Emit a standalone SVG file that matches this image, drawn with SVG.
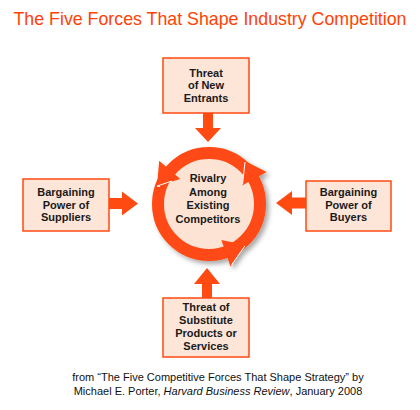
<svg xmlns="http://www.w3.org/2000/svg" width="420" height="410" viewBox="0 0 420 410">
<defs>
<style>
.title{font-family:"Liberation Sans",Arial,sans-serif;font-size:17.8px;fill:#ff4206}
.box{fill:#fde5d8;stroke:#ff4a12;stroke-width:1.5}
.lbl{font-family:"Liberation Sans",Arial,sans-serif;font-size:11px;font-weight:bold;fill:#1a1a1a;text-anchor:middle}
.foot{font-family:"Liberation Sans",Arial,sans-serif;font-size:11px;fill:#111;text-anchor:middle}
.arr{fill:#ff4a12}
.edge{fill:none;stroke:#fff;stroke-width:1;stroke-linejoin:round}
</style>
<filter id="sh" x="-20%" y="-20%" width="150%" height="150%">
<feDropShadow dx="3" dy="3" stdDeviation="2.5" flood-color="#000" flood-opacity="0.35"/>
</filter>
</defs>
<rect width="420" height="410" fill="#fff"/>
<text class="title" x="210" y="25" text-anchor="middle">The Five Forces That Shape Industry Competition</text>

<g id="connectors">
<path class="arr" d="M203 113H213V128H221L208 142L195 128H203Z"/>
<path class="arr" d="M109 198H122V191.5L138 203.5L122 215.5V209H109Z"/>
<path class="arr" d="M306 197.5H292V191L276 203L292 215V208.5H306Z"/>
<path class="arr" d="M202 298V284H194L207 268L220 284H212V298Z"/>
</g>

<g id="rivalry">
<g filter="url(#sh)">
<circle cx="209" cy="204" r="47" fill="#fde3d4"/>
<circle cx="209" cy="204" r="51" fill="none" stroke="#ff4a12" stroke-width="12"/>
<polygon class="arr" points="159.2,160.7 180.3,179.1 157,186.1"/>
<polygon class="arr" points="266.7,172 242.2,185.6 245,161.1"/>
<polygon class="arr" points="221.4,239.9 230.5,266.4 245.8,244.9"/>
</g>
<polyline class="edge" points="160,186.5 157,186.1 172,181"/>
<polyline class="edge" points="245,162 242.5,184.5"/>
<polyline class="edge" points="244.8,246 231.5,265"/>
<text class="lbl" x="208" y="182">Rivalry</text>
<text class="lbl" x="208" y="195.5">Among</text>
<text class="lbl" x="208" y="209">Existing</text>
<text class="lbl" x="208" y="222.5">Competitors</text>
</g>

<g id="new-entrants">
<rect class="box" x="163" y="58" width="86" height="55"/>
<text class="lbl" x="206" y="76.5">Threat</text>
<text class="lbl" x="206" y="89">of New</text>
<text class="lbl" x="206" y="101.5">Entrants</text>
</g>

<g id="suppliers">
<rect class="box" x="23" y="179" width="86" height="52"/>
<text class="lbl" x="66" y="196">Bargaining</text>
<text class="lbl" x="66" y="208.5">Power of</text>
<text class="lbl" x="66" y="221">Suppliers</text>
</g>

<g id="buyers">
<rect class="box" x="306" y="181" width="85" height="50"/>
<text class="lbl" x="348.5" y="196">Bargaining</text>
<text class="lbl" x="348.5" y="208.5">Power of</text>
<text class="lbl" x="348.5" y="221">Buyers</text>
</g>

<g id="substitutes">
<rect class="box" x="163" y="298" width="86" height="59"/>
<text class="lbl" x="206" y="311">Threat of</text>
<text class="lbl" x="206" y="324">Substitute</text>
<text class="lbl" x="206" y="337">Products or</text>
<text class="lbl" x="206" y="350">Services</text>
</g>

<text class="foot" x="218" y="381">from “The Five Competitive Forces That Shape Strategy” by</text>
<text class="foot" x="218" y="395">Michael E. Porter, <tspan font-style="italic">Harvard Business Review</tspan>, January 2008</text>
</svg>
